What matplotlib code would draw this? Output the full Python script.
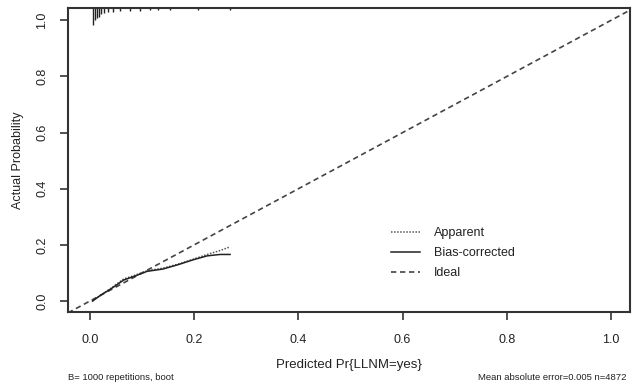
import matplotlib
matplotlib.use("Agg")
from matplotlib import pyplot as plt

plt.rcParams['font.family'] = ['Liberation Sans', 'DejaVu Sans']

# calibration curves (predicted vs actual)
pred = [0.005, 0.02, 0.04, 0.065, 0.085, 0.11, 0.14, 0.17, 0.20, 0.225, 0.25, 0.269]
apparent = [0.0, 0.02, 0.045, 0.079, 0.091, 0.108, 0.117, 0.132, 0.150, 0.166, 0.180, 0.193]
bias_corrected = [0.0, 0.02, 0.043, 0.075, 0.088, 0.106, 0.114, 0.130, 0.148, 0.161, 0.166, 0.166]

# rug of predicted probabilities along the top (length ~ frequency)
rug_x = [0.006, 0.010, 0.013, 0.017, 0.021, 0.027, 0.035, 0.044, 0.058, 0.077,
         0.096, 0.115, 0.131, 0.154, 0.207, 0.269]
rug_len = [0.060, 0.043, 0.036, 0.032, 0.021, 0.018, 0.014, 0.014, 0.011, 0.011,
           0.011, 0.007, 0.007, 0.007, 0.007, 0.007]

ticks = [0.0, 0.2, 0.4, 0.6, 0.8, 1.0]
tick_labels = ['0.0', '0.2', '0.4', '0.6', '0.8', '1.0']

XLIM = (-0.042, 1.0365)
YLIM = (-0.039, 1.044)
ink = '#333333'

fig = plt.figure(figsize=(6.32, 3.85), dpi=100)
ax = fig.add_axes([68 / 632, 73 / 385, 562 / 632, 304 / 385])

ax.plot(XLIM, XLIM, linestyle=(0, (3.2, 2.2)), color='#444444', lw=1.2, label='Ideal', zorder=2)
ax.plot(pred, apparent, linestyle=(0, (1, 1)), color='#555555', lw=1.1, label='Apparent', zorder=3)
ax.plot(pred, bias_corrected, linestyle='-', color='#222222', lw=1.1, label='Bias-corrected', zorder=4)

ax.vlines(rug_x, [YLIM[1] - h for h in rug_len], YLIM[1], color='#222222', lw=1.0)

ax.set_xlim(*XLIM)
ax.set_ylim(*YLIM)
ax.set_xticks(ticks)
ax.set_xticklabels(tick_labels)
ax.set_yticks(ticks)
ax.set_yticklabels(tick_labels, rotation=90, va='center')
ax.tick_params(direction='out', length=6, width=1.2, color=ink, labelsize=9, labelcolor='#222222')
ax.tick_params(axis='x', pad=10)
ax.tick_params(axis='y', pad=8)

for sp in ax.spines.values():
    sp.set_color(ink)
    sp.set_linewidth(1.5)

ax.set_xlabel('Predicted Pr{LLNM=yes}', fontsize=9.5, color='#222222', labelpad=9)
ax.set_ylabel('Actual Probability', fontsize=9, color='#222222', labelpad=9)

handles, labels = ax.get_legend_handles_labels()
order = [1, 2, 0]
ax.legend([handles[i] for i in order], [labels[i] for i in order],
          loc='upper left', bbox_to_anchor=(0.575, 0.28), frameon=False,
          fontsize=9, handlelength=2.3, handletextpad=1.1, labelspacing=0.65,
          borderpad=0, borderaxespad=0, labelcolor='#222222')

fig.text(68 / 632, 1 - 377 / 385, 'B= 1000 repetitions, boot', fontsize=6.8,
         color='#222222', ha='left', va='center')
fig.text(627 / 632, 1 - 377 / 385, 'Mean absolute error=0.005 n=4872', fontsize=6.8,
         color='#222222', ha='right', va='center')

fig.savefig('out.png', dpi=100)
